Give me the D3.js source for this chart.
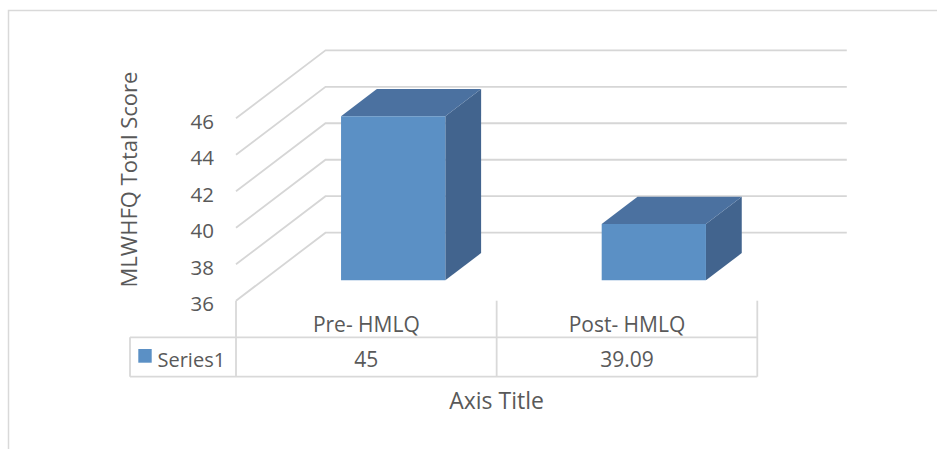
<!DOCTYPE html>
<html>
<head>
<meta charset="utf-8">
<script src="https://cdn.jsdelivr.net/npm/d3@7"></script>
<style>
  html, body { margin: 0; padding: 0; background: #fff; }
  svg { display: block; }
  text { font-family: "Open Sans", "Noto Sans", sans-serif; fill: #595959; }
</style>
</head>
<body>
<svg id="chart" width="937" height="449"></svg>
<script>
// ---- data ----
const categories = ["Pre- HMLQ", "Post- HMLQ"];
const seriesName = "Series1";
const values = [45, 39.09];
const valueLabels = ["45", "39.09"];
const yTicks = [36, 38, 40, 42, 44, 46];
const yTitle = "MLWHFQ Total Score";
const xTitle = "Axis Title";

// ---- layout ----
const svg = d3.select("#chart");
const frontLeft = 236, frontRight = 757.3;
const DX = 89.5, DY = -68;          // depth vector (front -> back)
const barDepth0 = 0.3, barDepth1 = 0.7;
const barFrac = 0.4;

const x = d3.scaleBand().domain(categories).range([frontLeft, frontRight]).padding(0);
const y = d3.scaleLinear().domain([36, 46]).range([300.7, 118.3]);

const P = (px, v, d) => [px + d * DX, y(v) + d * DY];

const gridColor = "#d6d6d6";
const borderColor = "#d9d9d9";

// outer chart border
svg.append("rect")
  .attr("x", 8.5).attr("y", 10.5).attr("width", 1200).attr("height", 1200)
  .attr("fill", "none").attr("stroke", borderColor).attr("stroke-width", 1.5);

// gridlines: left wall diagonals + back wall horizontals
const grid = svg.append("g");
yTicks.forEach(t => {
  const a = P(frontLeft, t, 0), b = P(frontLeft, t, 1), c = P(frontRight, t, 1);
  grid.append("path")
    .attr("d", d3.line()([a, b, c]))
    .attr("fill", "none").attr("stroke", gridColor).attr("stroke-width", 1.8);
});

// tick labels
svg.append("g").selectAll("text").data(yTicks).join("text")
  .attr("x", 214).attr("y", d => y(d) + 2.5)
  .attr("text-anchor", "end").attr("dominant-baseline", "central")
  .attr("font-size", 20.5).text(d => d);

// bars
const colFront = "#5b90c5", colTop = "#4b71a0", colSide = "#42648e";
const bars = svg.append("g");
categories.forEach((c, i) => {
  const v = values[i];
  const cx = x(c) + x.bandwidth() / 2;
  const w = x.bandwidth() * barFrac;
  const xl = cx - w / 2, xr = cx + w / 2;
  const base = y.domain()[0];
  bars.append("path")
    .attr("d", d3.line()([P(xr, base, barDepth0), P(xr, v, barDepth0), P(xr, v, barDepth1), P(xr, base, barDepth1)]) + "Z")
    .attr("fill", colSide);
  bars.append("path")
    .attr("d", d3.line()([P(xl, v, barDepth0), P(xr, v, barDepth0), P(xr, v, barDepth1), P(xl, v, barDepth1)]) + "Z")
    .attr("fill", colTop);
  bars.append("path")
    .attr("d", d3.line()([P(xl, base, barDepth0), P(xr, base, barDepth0), P(xr, v, barDepth0), P(xl, v, barDepth0)]) + "Z")
    .attr("fill", colFront);
});

// data table
const tableTop = 337.3, tableBottom = 376.7, tableLeft = 130, headerTop = y(36);
const tbl = svg.append("g").attr("stroke", borderColor).attr("stroke-width", 1.8).attr("fill", "none");
const bounds = [frontLeft].concat(categories.map(c => x(c) + x.bandwidth()));
bounds.forEach(bx => {
  tbl.append("line").attr("x1", bx).attr("x2", bx).attr("y1", headerTop).attr("y2", tableBottom);
});
tbl.append("line").attr("x1", tableLeft).attr("x2", tableLeft).attr("y1", tableTop).attr("y2", tableBottom);
tbl.append("line").attr("x1", tableLeft).attr("x2", frontRight).attr("y1", tableTop).attr("y2", tableTop);
tbl.append("line").attr("x1", tableLeft).attr("x2", frontRight).attr("y1", tableBottom).attr("y2", tableBottom);

// category labels
svg.append("g").selectAll("text").data(categories).join("text")
  .attr("x", d => x(d) + x.bandwidth() / 2).attr("y", 331.7)
  .attr("text-anchor", "middle").attr("font-size", 21).text(d => d);

// values
svg.append("g").selectAll("text").data(categories).join("text")
  .attr("x", d => x(d) + x.bandwidth() / 2).attr("y", 367)
  .attr("text-anchor", "middle").attr("font-size", 21).text((d, i) => valueLabels[i]);

// legend key
svg.append("rect").attr("x", 138.3).attr("y", 349).attr("width", 13.4).attr("height", 13.7).attr("fill", colFront);
svg.append("text").attr("x", 157.5).attr("y", 366.7).attr("font-size", 20).text(seriesName);

// axis titles
svg.append("text").attr("x", 496.5).attr("y", 409).attr("text-anchor", "middle")
  .attr("font-size", 23).text(xTitle);
svg.append("text").attr("transform", "translate(136.5,179.5) rotate(-90)")
  .attr("text-anchor", "middle").attr("font-size", 22).text(yTitle);
</script>
</body>
</html>
